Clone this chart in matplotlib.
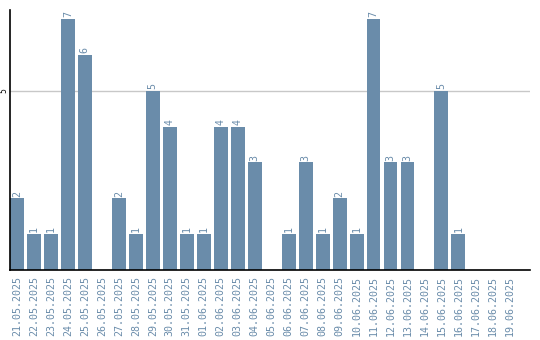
import matplotlib.pyplot as plt

dates = ['21.05.2025', '22.05.2025', '23.05.2025', '24.05.2025', '25.05.2025',
         '26.05.2025', '27.05.2025', '28.05.2025', '29.05.2025', '30.05.2025',
         '31.05.2025', '01.06.2025', '02.06.2025', '03.06.2025', '04.06.2025',
         '05.06.2025', '06.06.2025', '07.06.2025', '08.06.2025', '09.06.2025',
         '10.06.2025', '11.06.2025', '12.06.2025', '13.06.2025', '14.06.2025',
         '15.06.2025', '16.06.2025', '17.06.2025', '18.06.2025', '19.06.2025']
counts = [2, 1, 1, 7, 6, 0, 2, 1, 5, 4,
          1, 1, 4, 4, 3, 0, 1, 3, 1, 2,
          1, 7, 3, 3, 0, 5, 1, 0, 0, 0]

bar_color = '#6a8caa'

fig = plt.figure(figsize=(5.4, 3.4), dpi=100)
ax = fig.add_axes([0.0185, 0.206, 0.9625, 0.765])

x = list(range(len(dates)))
ax.bar(x, counts, width=0.82, color=bar_color, zorder=2)

# value labels above bars
for xi, v in zip(x, counts):
    if v > 0:
        ax.text(xi, v + 0.05, str(v), rotation=90, ha='center', va='bottom',
                color=bar_color, fontsize=7.2, family='DejaVu Sans Mono')

ax.set_xlim(-0.41, 30.2)
ax.set_ylim(0, 7.26)

ax.set_yticks([5])
ax.set_yticklabels(['5'], rotation=90, va='center', fontsize=5.5)
ax.grid(axis='y', color='#c8c8c8', linewidth=1, zorder=0)
ax.tick_params(axis='y', length=0, pad=1.5)

ax.set_xticks(x)
ax.set_xticklabels(dates, rotation=90, fontsize=7.2, color=bar_color,
                   family='DejaVu Sans Mono')
ax.tick_params(axis='x', length=0, pad=4)

ax.spines['top'].set_visible(False)
ax.spines['right'].set_visible(False)
ax.spines['left'].set_linewidth(1.2)
ax.spines['bottom'].set_linewidth(1.2)

plt.savefig('out.png', dpi=100)
